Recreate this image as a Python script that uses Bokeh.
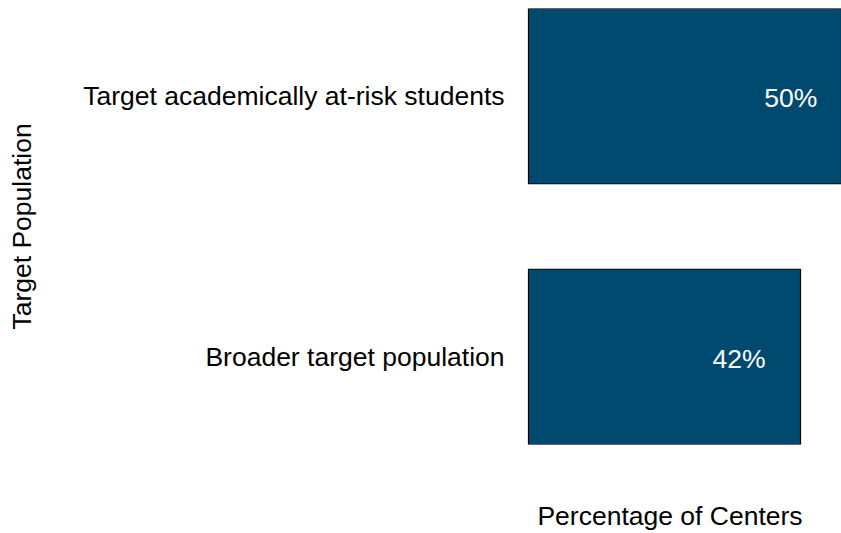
from bokeh.plotting import figure
from bokeh.models import Range1d, FixedTicker, ColumnDataSource
from bokeh.core.properties import value
from bokeh.embed import file_html
from bokeh.resources import INLINE

categories = ["Target academically at-risk students", "Broader target population"]
values = [50, 42]
labels = ["50%", "42%"]
positions = [1, 0]

FONT = "Liberation Sans"
FS = "26.5px"
BAR = "#014a6f"

src = ColumnDataSource(dict(y=positions, v=values, lab=labels, cat=categories))

p = figure(width=841, height=533, output_backend="svg", toolbar_location=None,
           x_range=Range1d(-4.63, 48.33), y_range=Range1d(-0.336, 1.336),
           min_border_left=498, min_border_right=0, min_border_top=8, min_border_bottom=87)

p.hbar(y="y", right="v", left=0, height=0.672, source=src,
       fill_color=BAR, line_color="black", line_width=1.2)
p.text(x="v", y="y", text="lab", source=src, text_align="right", text_baseline="middle",
       x_offset=-35, y_offset=2, text_color="white", text_font=value(FONT), text_font_size=value(FS))

p.grid.visible = False
p.outline_line_color = None

ya = p.yaxis[0]
ya.ticker = FixedTicker(ticks=positions)
ya.major_label_overrides = {pos: c for pos, c in zip(positions, categories)}
ya.axis_line_color = None
ya.major_tick_line_color = None
ya.minor_tick_line_color = None
ya.major_tick_out = 0
ya.major_tick_in = 0
ya.major_label_standoff = -6
ya.major_label_text_font = FONT
ya.major_label_text_font_size = FS
ya.major_label_text_color = "black"
ya.axis_label = "Target Population"
ya.axis_label_text_font = FONT
ya.axis_label_text_font_size = FS
ya.axis_label_text_font_style = "normal"
ya.axis_label_text_color = "black"
ya.axis_label_standoff = 43

xa = p.xaxis[0]
xa.ticker = FixedTicker(ticks=[])
xa.axis_line_color = None
xa.major_tick_line_color = None
xa.minor_tick_line_color = None
xa.major_tick_out = 0
xa.major_tick_in = 0
xa.axis_label = "Percentage of Centers"
xa.axis_label_text_font = FONT
xa.axis_label_text_font_size = FS
xa.axis_label_text_font_style = "normal"
xa.axis_label_text_color = "black"
xa.axis_label_standoff = 56

open("out.html", "w").write(file_html(p, INLINE))
